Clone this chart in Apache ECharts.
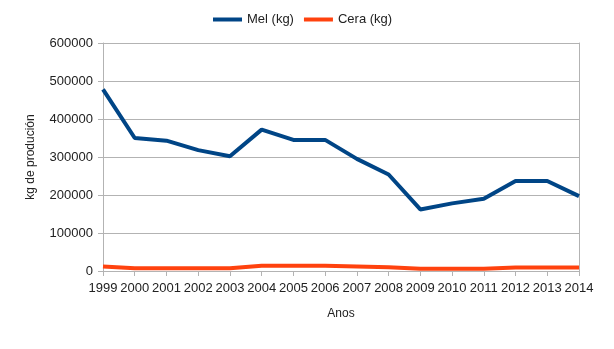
<!DOCTYPE html>
<html><head><meta charset="utf-8">
<script src="https://cdn.jsdelivr.net/npm/echarts@6/dist/echarts.min.js"></script>
<style>html,body{margin:0;padding:0;background:#fff}#c{width:614px;height:349px}</style>
</head><body><div id="c"></div>
<script>
const years = ['1999','2000','2001','2002','2003','2004','2005','2006','2007','2008','2009','2010','2011','2012','2013','2014'];
const mel = [478000,350000,343000,318000,302000,372000,345000,345000,295000,254000,162000,178000,190000,237000,237000,197000];
const cera = [12000,7000,7000,7000,7000,14000,14000,14000,12000,10000,6000,6000,6000,9000,9000,9000];
const yTicks = [0,100000,200000,300000,400000,500000,600000];

const font = 'Liberation Sans';
const chart = echarts.init(document.getElementById('c'));
chart.setOption({
  animation:false,
  textStyle:{fontFamily:font},
  legend:{
    top:8, left:208, itemWidth:29, itemHeight:4, itemGap:10, icon:'rect',
    textStyle:{fontFamily:font,fontSize:13,color:'#222'},
    data:['Mel (kg)','Cera (kg)']
  },
  grid:{left:103,right:35,top:43,bottom:78,containLabel:false},
  xAxis:{
    type:'category', data:years, boundaryGap:false,
    name:'Anos', nameLocation:'middle', nameGap:37,
    nameTextStyle:{fontFamily:font,fontSize:12,color:'#222'},
    axisLine:{lineStyle:{color:'#b3b3b3',width:1}},
    axisTick:{show:true,length:5,lineStyle:{color:'#b3b3b3'}},
    axisLabel:{fontFamily:font,fontSize:13,color:'#222',margin:11,interval:0},
    splitLine:{show:false}
  },
  yAxis:[{
    type:'value', min:yTicks[0], max:yTicks[yTicks.length-1], interval:100000,
    name:'kg de produción', nameLocation:'middle', nameGap:66, nameRotate:90,
    nameTextStyle:{fontFamily:font,fontSize:12,color:'#222'},
    axisLine:{show:true,lineStyle:{color:'#b3b3b3'}},
    axisTick:{show:true,length:5,lineStyle:{color:'#b3b3b3'}},
    axisLabel:{fontFamily:font,fontSize:13,color:'#222',margin:10,formatter:v=>String(v)},
    splitLine:{lineStyle:{color:'#b3b3b3',width:1}}
  },{
    type:'value', min:yTicks[0], max:yTicks[yTicks.length-1], interval:100000, position:'right',
    axisLine:{show:true,lineStyle:{color:'#b3b3b3'}},
    axisTick:{show:false}, axisLabel:{show:false}, splitLine:{show:false}
  }],
  series:[
    {name:'Mel (kg)',type:'line',data:mel,symbol:'none',color:'#004586',lineStyle:{width:4,color:'#004586'}},
    {name:'Cera (kg)',type:'line',data:cera,symbol:'none',color:'#ff420e',lineStyle:{width:4,color:'#ff420e'}}
  ]
});
</script></body></html>
